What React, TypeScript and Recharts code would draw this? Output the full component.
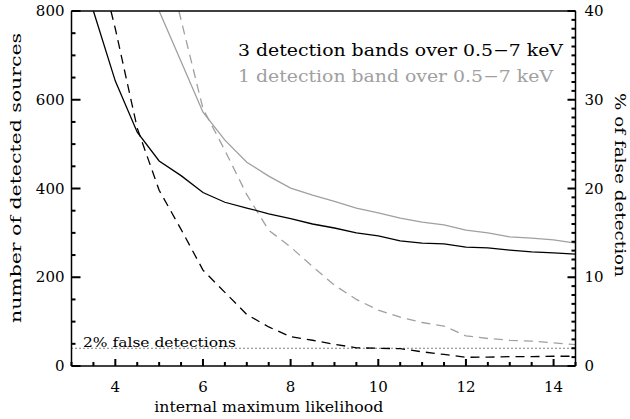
import React from "react";
import { LineChart, Line, XAxis, YAxis } from "recharts";

// number of detected sources (left axis) vs internal maximum likelihood
const likelihoodThreeBands = [3.5, 4, 4.5, 5, 5.5, 6, 6.5, 7, 7.5, 8, 8.5, 9, 9.5, 10, 10.5, 11, 11.5, 12, 12.5, 13, 13.5, 14, 14.5];
const sourcesThreeBands = [800, 642, 527, 462, 429, 391, 369, 356, 343, 332, 320, 311, 300, 293, 282, 277, 275, 268, 266, 261, 257, 255, 252];
const likelihoodOneBand = [5, 5.5, 6, 6.5, 7, 7.5, 8, 8.5, 9, 9.5, 10, 10.5, 11, 11.5, 12, 12.5, 13, 13.5, 14, 14.5];
const sourcesOneBand = [800, 686, 572, 509, 459, 428, 401, 385, 371, 356, 345, 333, 324, 318, 306, 300, 291, 288, 284, 277];

// % of false detections (right axis)
const likelihoodFalseThree = [3.9, 4, 4.5, 5, 5.5, 6, 6.5, 7, 7.5, 8, 8.5, 9, 9.5, 10, 10.5, 11, 11.5, 12, 12.5, 13, 13.5, 14, 14.5];
const falseThreeBands = [40, 38, 26.8, 19.8, 15.4, 10.8, 8.3, 5.8, 4.4, 3.3, 2.9, 2.45, 2.05, 2.0, 1.95, 1.6, 1.3, 0.98, 1.0, 1.05, 1.05, 1.1, 1.1];
const likelihoodFalseOne = [5.45, 5.5, 6, 6.5, 7, 7.5, 8, 8.5, 9, 9.5, 10, 10.5, 11, 11.5, 12, 12.5, 13, 13.5, 14, 14.5];
const falseOneBand = [40, 39, 29, 24.3, 19.3, 15.3, 13.4, 11.2, 9.1, 7.5, 6.3, 5.5, 4.9, 4.5, 3.4, 3.1, 2.9, 2.8, 2.6, 2.4];

// 2% false detection level, across the whole x range
const limitLikelihood = [3, 14.5];
const falseLimit = [2, 2];

const xTicks = [3, 3.5, 4, 4.5, 5, 5.5, 6, 6.5, 7, 7.5, 8, 8.5, 9, 9.5, 10, 10.5, 11, 11.5, 12, 12.5, 13, 13.5, 14, 14.5];
const xLabelTicks = [4, 6, 8, 10, 12, 14];
const countTicks = [0, 50, 100, 150, 200, 250, 300, 350, 400, 450, 500, 550, 600, 650, 700, 750, 800];
const countLabelTicks = [0, 200, 400, 600, 800];
const percentTicks = [0, 1, 2, 3, 4, 5, 6, 7, 8, 9, 10, 11, 12, 13, 14, 15, 16, 17, 18, 19, 20, 21, 22, 23, 24, 25, 26, 27, 28, 29, 30, 31, 32, 33, 34, 35, 36, 37, 38, 39, 40];
const percentLabelTicks = [0, 10, 20, 30, 40];

const toRows = (xs: number[], ys: number[]) => xs.map((x, i) => ({ x, y: ys[i] }));
const src3Rows = toRows(likelihoodThreeBands, sourcesThreeBands);
const src1Rows = toRows(likelihoodOneBand, sourcesOneBand);
const fd3Rows = toRows(likelihoodFalseThree, falseThreeBands);
const fd1Rows = toRows(likelihoodFalseOne, falseOneBand);
const limitRows = toRows(limitLikelihood, falseLimit);

const FONT = "DejaVu Serif";
const GRAY = "#a0a0a0";
const TICK_W = 2;

function BottomTick(props: any) {
  const x = Number(props.x);
  const y = Number(props.y);
  const major = xLabelTicks.includes(props.payload.value);
  return (
    <g>
      <rect x={x - TICK_W / 2} y={y - (major ? 7 : 4)} width={TICK_W} height={major ? 7 : 4} fill="#000" />
      {major && (
        <text x={x} y={y + 26} textAnchor="middle" fontFamily={FONT} fontSize={15} fill="#000">
          {props.payload.value}
        </text>
      )}
    </g>
  );
}

function TopTick(props: any) {
  const x = Number(props.x);
  const y = Number(props.y);
  const major = xLabelTicks.includes(props.payload.value);
  return <rect x={x - TICK_W / 2} y={y} width={TICK_W} height={major ? 7 : 4} fill="#000" />;
}

function LeftTick(props: any) {
  const x = Number(props.x);
  const y = Number(props.y);
  const major = countLabelTicks.includes(props.payload.value);
  return (
    <g>
      <rect x={x} y={y - TICK_W / 2} width={major ? 9 : 4} height={TICK_W} fill="#000" />
      {major && (
        <text x={x - 7} y={y + 5} textAnchor="end" fontFamily={FONT} fontSize={15} fill="#000">
          {props.payload.value}
        </text>
      )}
    </g>
  );
}

function RightTick(props: any) {
  const x = Number(props.x);
  const y = Number(props.y);
  const major = percentLabelTicks.includes(props.payload.value);
  return (
    <g>
      <rect x={x - (major ? 8 : 4)} y={y - TICK_W / 2} width={major ? 8 : 4} height={TICK_W} fill="#000" />
      {major && (
        <text x={x + 9} y={y + 5} textAnchor="start" fontFamily={FONT} fontSize={15} fill="#000">
          {props.payload.value}
        </text>
      )}
    </g>
  );
}

// titles and legend text, in an overlay layer above the chart
function Annotations() {
  return (
    <svg width={630} height={419} style={{ position: "absolute", left: 0, top: 0, pointerEvents: "none" }}>
      <g fontFamily={FONT}>
        <text x={238} y={56} fontSize={17} fill="#000" textLength={325} lengthAdjust="spacingAndGlyphs">
          3 detection bands over 0.5−7 keV
        </text>
        <text x={238} y={82} fontSize={17} fill={GRAY} textLength={315} lengthAdjust="spacingAndGlyphs">
          1 detection band over 0.5−7 keV
        </text>
        <text x={83} y={346.5} fontSize={13.5} fill="#000" textLength={153} lengthAdjust="spacingAndGlyphs">
          2% false detections
        </text>
        <text x={268.8} y={412} fontSize={15} fill="#000" textAnchor="middle" textLength={229} lengthAdjust="spacingAndGlyphs">
          internal maximum likelihood
        </text>
        <text transform="translate(21,178) rotate(-90)" fontSize={15.5} fill="#000" textAnchor="middle" textLength={290} lengthAdjust="spacingAndGlyphs">
          number of detected sources
        </text>
        <text transform="translate(615,185) rotate(90)" fontSize={15.5} fill="#000" textAnchor="middle" textLength={184} lengthAdjust="spacingAndGlyphs">
          % of false detection
        </text>
      </g>
    </svg>
  );
}

export default function App() {
  return (
    <div style={{ position: "absolute", left: 0, top: 0, width: 630, height: 419, background: "#fff" }}>
      <LineChart width={630} height={419} margin={{ top: 0, right: 0, bottom: 0, left: 0 }}>
        <XAxis xAxisId="b" dataKey="x" type="number" domain={[3, 14.5]} ticks={xTicks} interval={0}
          height={53} tickSize={0} tickMargin={0} tickLine={false} tick={BottomTick}
          axisLine={{ stroke: "#000", strokeWidth: 1.5 }} />
        <XAxis xAxisId="t" orientation="top" dataKey="x" type="number" domain={[3, 14.5]} ticks={xTicks} interval={0}
          height={11} tickSize={0} tickMargin={0} tickLine={false} tick={TopTick}
          axisLine={{ stroke: "#000", strokeWidth: 1.5 }} />
        <YAxis yAxisId="l" dataKey="y" domain={[0, 800]} ticks={countTicks} interval={0}
          width={71.5} tickSize={0} tickMargin={0} tickLine={false} tick={LeftTick}
          axisLine={{ stroke: "#000", strokeWidth: 1.5 }} />
        <YAxis yAxisId="r" orientation="right" dataKey="y" domain={[0, 40]} ticks={percentTicks} interval={0}
          width={54.5} tickSize={0} tickMargin={0} tickLine={false} tick={RightTick}
          axisLine={{ stroke: "#000", strokeWidth: 1.5 }} />

        <Line data={limitRows} xAxisId="b" yAxisId="r" dataKey="y" stroke="#000" strokeWidth={1} strokeDasharray="1 3" dot={false} isAnimationActive={false} />
        <Line data={fd1Rows} xAxisId="b" yAxisId="r" dataKey="y" stroke={GRAY} strokeWidth={1.3} strokeDasharray="9 6" dot={false} isAnimationActive={false} />
        <Line data={src1Rows} xAxisId="b" yAxisId="l" dataKey="y" stroke={GRAY} strokeWidth={1.3} dot={false} isAnimationActive={false} />
        <Line data={fd3Rows} xAxisId="b" yAxisId="r" dataKey="y" stroke="#000" strokeWidth={1.3} strokeDasharray="9 6" dot={false} isAnimationActive={false} />
        <Line data={src3Rows} xAxisId="b" yAxisId="l" dataKey="y" stroke="#000" strokeWidth={1.3} dot={false} isAnimationActive={false} />
      </LineChart>
      <Annotations />
    </div>
  );
}
